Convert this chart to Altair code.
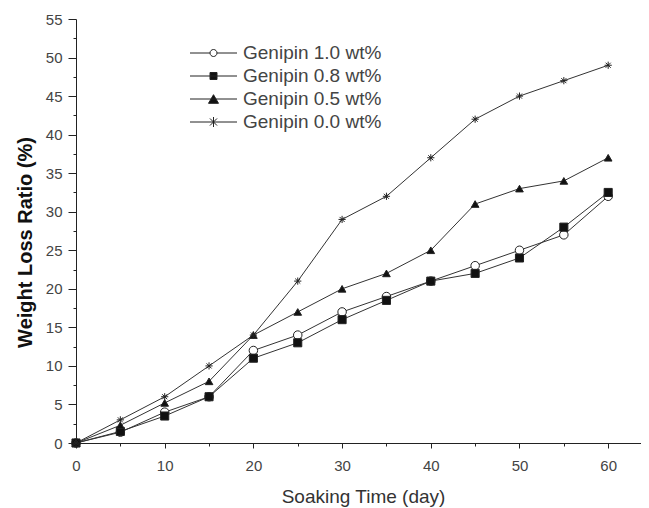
import altair as alt
import pandas as pd

days = [0, 5, 10, 15, 20, 25, 30, 35, 40, 45, 50, 55, 60]
series_names = ["Genipin 1.0 wt%", "Genipin 0.8 wt%", "Genipin 0.5 wt%", "Genipin 0.0 wt%"]
g10 = [0, 1.4, 4.0, 6.0, 12.0, 14.0, 17.0, 19.0, 21.0, 23.0, 25.0, 27.0, 32.0]
g08 = [0, 1.5, 3.5, 6.0, 11.0, 13.0, 16.0, 18.5, 21.0, 22.0, 24.0, 28.0, 32.5]
g05 = [0, 2.3, 5.2, 8.0, 14.0, 17.0, 20.0, 22.0, 25.0, 31.0, 33.0, 34.0, 37.0]
g00 = [0, 3.0, 6.0, 10.0, 14.0, 21.0, 29.0, 32.0, 37.0, 42.0, 45.0, 47.0, 49.0]

x_major = [0, 10, 20, 30, 40, 50, 60]
x_minor = [5, 15, 25, 35, 45, 55]
y_major = [0, 5, 10, 15, 20, 25, 30, 35, 40, 45, 50, 55]
y_minor = [2.5, 7.5, 12.5, 17.5, 22.5, 27.5, 32.5, 37.5, 42.5, 47.5, 52.5]

rows = []
for name, vals in zip(series_names, [g10, g08, g05, g00]):
    for d, v in zip(days, vals):
        rows.append({"day": d, "loss": v, "series": name})
df = pd.DataFrame(rows)

ASTER = "M-1,0H1M0,-1V1M-0.7,-0.7L0.7,0.7M-0.7,0.7L0.7,-0.7"
plot_shapes = ["circle", "square", "triangle-up", ASTER]
plot_sizes = [72, 52, 100, 100]
fills = ["white", "#111", "#111", "#111"]

# legend glyphs: line through marker (unit = 12.5 px)
L = 1.88
c = 0.28
t_w = 0.4
t_h = 0.346
a = 0.4
d = 0.283
legend_shapes = [
    f"M-{L},0H-{c}M{c},0H{L}M{c},0A{c},{c},0,1,1,-{c},0A{c},{c},0,1,1,{c},0Z",
    f"M-{L},0H{L}M-{c},-{c}H{c}V{c}H-{c}Z",
    f"M-{L},0H{L}M0,-{t_h}L{t_w},{t_h}H-{t_w}Z",
    f"M-{L},0H{L}M0,-{a}V{a}M-{d},-{d}L{d},{d}M-{d},{d}L{d},-{d}",
]

FONT = "Liberation Sans"
x_scale = alt.Scale(domain=[0, 63.7], nice=False, zero=False)
y_scale = alt.Scale(domain=[0, 55], nice=False)

base = alt.Chart(df)

lines = base.mark_line(color="#333", strokeWidth=1).encode(
    x=alt.X("day:Q", scale=x_scale, axis=alt.Axis(
        values=x_major, orient="bottom", title="Soaking Time (day)", tickSize=5,
        labelFlush=False, labelOverlap=False, labelPadding=10, labelFontSize=15,
        labelColor="#444", titleFontSize=19, titleFontWeight="normal",
        titleColor="#333", titlePadding=14, titleX=287, grid=False,
        domainColor="#222", tickColor="#222", labelFont=FONT, titleFont=FONT)),
    y=alt.Y("loss:Q", scale=y_scale, axis=alt.Axis(
        values=y_major, orient="left", title="Weight Loss Ratio (%)", tickSize=8,
        labelOverlap=False, labelFlush=False, labelPadding=6, labelFontSize=15,
        labelColor="#444", titleFontSize=20, titleFontWeight="bold",
        titleColor="#111", titlePadding=10, titleY=223, grid=False,
        domainColor="#222", tickColor="#222", labelFont=FONT, titleFont=FONT)),
    detail="series:N",
)

points = base.mark_point(stroke="#222", strokeWidth=1, opacity=1).encode(
    x=alt.X("day:Q", scale=x_scale, axis=alt.Axis(
        values=x_minor, orient="bottom", labels=False, title=None, domain=False,
        tickSize=3, grid=False, tickColor="#222")),
    y=alt.Y("loss:Q", scale=y_scale, axis=alt.Axis(
        values=y_minor, orient="left", labels=False, title=None, domain=False,
        tickSize=3, grid=False, tickColor="#222")),
    shape=alt.Shape("series:N", scale=alt.Scale(domain=series_names, range=plot_shapes), legend=None),
    fill=alt.Fill("series:N", scale=alt.Scale(domain=series_names, range=fills), legend=None),
    size=alt.Size("series:N", scale=alt.Scale(domain=series_names, range=plot_sizes), legend=None),
)

leg = dict(title=None, orient="none", legendX=124.5, legendY=21, symbolSize=625,
           symbolStrokeWidth=1, labelFontSize=19, labelColor="#444", labelFont=FONT,
           labelOffset=16.5, rowPadding=0)

legend_layer = base.transform_filter("false").mark_point(stroke="#222", strokeWidth=1, opacity=1).encode(
    x=alt.X("day:Q", scale=x_scale, axis=None),
    y=alt.Y("loss:Q", scale=y_scale, axis=None),
    shape=alt.Shape("series:N", scale=alt.Scale(domain=series_names, range=legend_shapes),
                    legend=alt.Legend(**leg)),
    fill=alt.Fill("series:N", scale=alt.Scale(domain=series_names, range=fills),
                  legend=alt.Legend(**leg)),
)

chart = (
    alt.layer(lines, points, legend_layer)
    .resolve_scale(shape="independent", fill="independent", size="independent")
    .resolve_axis(x="independent", y="independent")
    .properties(width=565, height=424, autosize=alt.AutoSizeParams(type="none"),
                padding={"left": 68, "top": 11, "right": 0, "bottom": 64},
                background="white")
    .configure_view(stroke=None)
)

chart.save("out.html", embed_options={"renderer": "svg", "actions": False})
